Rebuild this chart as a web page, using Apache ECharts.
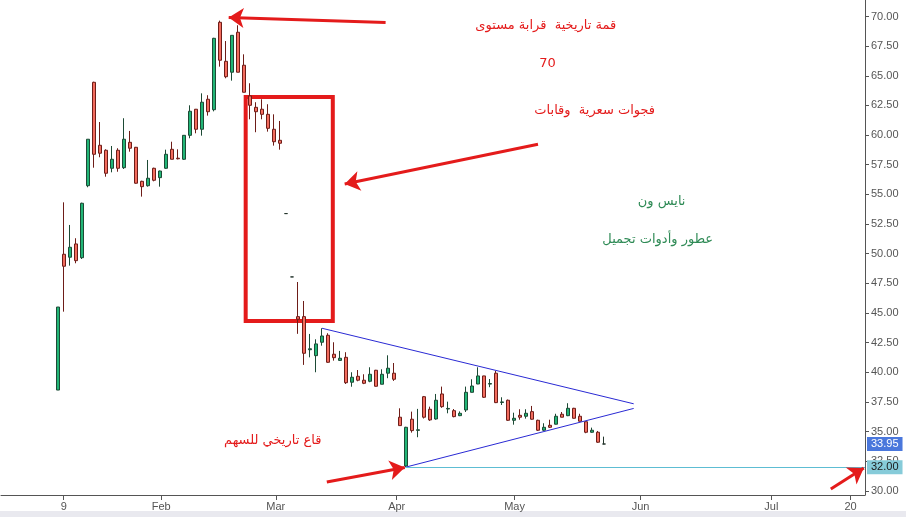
<!DOCTYPE html>
<html><head><meta charset="utf-8">
<script src="https://cdn.jsdelivr.net/npm/echarts@6/dist/echarts.min.js"></script>
<style>html,body{margin:0;padding:0;background:#fff}#c{width:906px;height:517px}</style>
</head><body><div id="c"></div>
<script>
// ---- price data (trading days from 2025-01-08) ----
const opens  = [38.5,49.95,49.7,50.82,49.66,55.73,64.45,59.14,58.72,57.2,58.72,57.25,59.39,58.97,56.1,55.73,57.2,56.41,57.2,58.8,58.05,57.96,59.98,62.18,60.49,63.02,62.14,69.51,66.22,65.3,68.67,65.89,63.3,62.34,62.18,61.75,60.49,59.56,53.38,48.04,44.69,44.69,41.9,41.4,42.53,43.12,41.52,41.0,41.26,39.16,39.66,39.33,39.24,40.17,38.99,39.92,39.92,36.21,32.1,36.04,35.1,37.94,36.88,36.06,38.17,36.9,36.76,36.34,36.82,38.31,39.01,39.69,39.0,39.92,37.45,37.64,35.95,36.37,36.29,36.68,35.95,35.11,35.53,35.62,36.46,36.34,36.96,36.29,35.83,34.94,34.94,33.95];
const highs  = [45.5,54.33,52.42,51.3,54.3,59.65,64.5,61.1,58.8,59.08,58.89,61.42,60.35,59.0,56.15,57.9,57.25,57.0,58.77,59.44,58.8,60.0,62.51,62.2,63.52,63.36,68.2,69.65,67.93,68.41,69.26,66.81,64.37,62.77,63.02,62.6,61.75,61.19,53.38,48.04,47.61,46.01,43.23,42.78,43.71,43.29,42.53,41.8,41.69,40.0,40.19,39.83,40.42,40.2,40.25,41.43,40.78,36.96,35.4,36.68,36.91,38.0,37.1,38.17,38.79,37.52,36.9,36.7,38.79,39.41,40.42,39.7,39.43,40.11,37.89,37.7,36.59,36.88,36.88,37.16,36.0,35.7,36.0,36.5,36.65,37.39,37.0,36.5,35.85,35.33,35.05,34.57];
const lows   = [38.5,45.11,48.99,49.19,49.55,55.6,57.25,58.13,56.49,56.86,56.91,57.14,58.6,55.9,54.81,55.65,56.1,55.65,57.15,57.96,57.95,57.9,59.73,60.15,59.95,61.64,62.0,65.77,64.79,64.59,65.3,63.6,61.33,60.24,61.33,60.29,59.11,58.77,53.38,48.04,43.24,40.62,41.26,40.0,42.24,40.8,40.98,40.95,39.01,38.78,39.24,39.0,39.16,38.8,38.99,39.5,39.27,35.5,32.0,34.91,34.52,36.1,35.9,36.0,37.0,36.54,36.2,36.3,36.65,38.3,39.0,37.83,38.74,37.4,37.24,35.9,35.58,36.0,36.09,36.0,35.05,35.05,35.3,35.6,36.2,36.3,36.1,35.85,34.86,34.9,34.05,33.93];
const closes = [45.5,48.94,50.54,49.41,54.25,59.65,58.38,58.47,56.78,57.96,57.2,59.65,58.89,55.94,55.65,56.36,56.19,56.97,58.38,57.96,58.0,59.98,62.01,60.49,62.77,61.97,68.16,66.31,64.92,68.41,65.3,63.61,62.51,61.97,61.75,60.57,59.44,59.31,53.38,48.04,44.47,41.6,41.98,42.39,43.06,40.84,41.23,41.18,39.12,39.58,39.33,39.07,39.83,38.82,39.83,40.34,39.41,35.5,35.36,35.08,35.15,36.21,35.98,37.64,37.1,36.95,36.26,36.54,38.31,38.84,39.69,37.89,39.05,37.44,37.5,35.95,36.12,36.21,36.54,36.04,35.11,35.36,35.36,36.29,36.21,36.96,36.12,35.87,34.94,35.11,34.1,33.95];

// ---- calendar ----
const firstDay = '2025-01-08';
const marketHolidays = ['2025-03-30','2025-03-31','2025-04-01','2025-04-02'];
const padSlots = 9;      // empty slots before first bar
const barSlots = 135;    // bar slots incl. future area

// ---- axis ticks ----
const timeTickPos = [0.95, 17.2, 36.3, 56.45, 76.1, 97.1, 118.9, 132.1];
const timeTickLabels = ['9','Feb','Mar','Apr','May','Jun','Jul','20'];
const priceTicks = [30,32.5,35,37.5,40,42.5,45,47.5,50,52.5,55,57.5,60,62.5,65,67.5,70];
const priceMin = 29.65, priceMax = 71.39;

// ---- annotations (bar position, price) ----
const lastPrice = 33.95;
const historicLow = 32.00;
const lowLineFrom = 57.95;
const upperTrend = [[44.0, 43.71], [95.95, 37.34]];
const lowerTrend = [[57.95, 32.0], [95.95, 36.95]];
const gapBox = [[31.28, 63.21], [45.8, 44.33]];
const arrowLines = [
  [[54.6, 69.49], [28.45, 69.92]],
  [[80.0, 59.22], [47.78, 55.88]],
  [[44.8, 30.75], [57.8, 31.97]],
  [[128.8, 30.16], [134.3, 31.93]]
];
const redNotes = [
  ['قمة تاريخية  قرابة مستوى', 81.3, 69.22],
  ['70', 81.6, 66.0],
  ['فجوات سعرية  وقابات', 89.45, 62.03],
  ['قاع تاريخي للسهم', 35.78, 34.21]
];
const greenNotes = [
  ['نايس ون', 100.6, 54.4],
  ['عطور وأدوات تجميل', 99.95, 51.16]
];

function buildCategories() {
  const cats = [];
  for (let i = 0; i < padSlots; i++) cats.push('p' + i);
  const d = new Date(firstDay + 'T00:00:00Z');
  let n = 0;
  while (n < barSlots) {
    const s = d.toISOString().slice(0, 10);
    const wd = d.getUTCDay();
    if (wd !== 5 && wd !== 6 && marketHolidays.indexOf(s) < 0) { cats.push(s); n++; }
    d.setUTCDate(d.getUTCDate() + 1);
  }
  return cats;
}
const categories = buildCategories();
const X = p => padSlots + p;

const candleData = opens.map((o, i) => [padSlots + i, o, closes[i], lows[i], highs[i]]);

const RED = '#e41b1b';
const AX = '#555555';
const LOWLINE = '#5dbdd3';
const arabicFont = 'DejaVu Sans';

const chart = echarts.init(document.getElementById('c'), null, {renderer: 'canvas'});
chart.setOption({
  animation: false,
  backgroundColor: '#ffffff',
  grid: {left: 1, right: 41, top: 0, bottom: 22},
  xAxis: [{
    type: 'category', data: categories, boundaryGap: true,
    axisLine: {show: true, onZero: false, lineStyle: {color: AX, width: 1}},
    axisTick: {show: false}, axisLabel: {show: false}, splitLine: {show: false}
  }, {
    type: 'value', position: 'bottom', min: -0.5, max: categories.length - 0.5,
    axisLine: {show: false, onZero: false}, splitLine: {show: false},
    axisTick: {show: true, length: 5, lineStyle: {color: AX}, customValues: timeTickPos.map(X)},
    axisLabel: {show: true, customValues: timeTickPos.map(X), margin: 6, color: '#555', fontSize: 11,
      fontFamily: 'Liberation Sans',
      formatter: v => { let k = 0, best = 1e9; timeTickPos.forEach((p, i) => { const dd = Math.abs(X(p) - v); if (dd < best) { best = dd; k = i; } }); return timeTickLabels[k]; }}
  }],
  yAxis: [{
    type: 'value', position: 'right', min: priceMin, max: priceMax,
    axisLine: {show: true, onZero: false, lineStyle: {color: AX, width: 1}},
    axisTick: {show: true, length: 4, lineStyle: {color: AX}, customValues: priceTicks},
    axisLabel: {show: true, customValues: priceTicks, margin: 6, color: '#555', fontSize: 11,
      fontFamily: 'Liberation Sans', formatter: v => v.toFixed(2)},
    splitLine: {show: false}
  }],
  series: [{
    type: 'candlestick', xAxisIndex: 0, yAxisIndex: 0,
    data: candleData, encode: {x: 0, y: [1, 2, 3, 4]},
    barWidth: 4,
    itemStyle: {color: '#21b576', color0: '#f26c5e', borderColor: '#1d4a35', borderColor0: '#6e1d18', borderColorDoji: '#24352c', borderWidth: 1}
  }, {
    type: 'line', xAxisIndex: 1, yAxisIndex: 0, data: [[X(0), lastPrice]],
    showSymbol: false, symbol: 'none', lineStyle: {opacity: 0}, silent: true,
    markLine: {
      silent: true, symbol: ['none', 'none'],
      data: [
        [{coord: [X(upperTrend[0][0]), upperTrend[0][1]]}, {coord: [X(upperTrend[1][0]), upperTrend[1][1]]}],
        [{coord: [X(lowerTrend[0][0]), lowerTrend[0][1]]}, {coord: [X(lowerTrend[1][0]), lowerTrend[1][1]]}],
        [{coord: [X(lowLineFrom), historicLow], lineStyle: {color: LOWLINE, width: 1, type: 'solid'}},
         {coord: [categories.length - 0.5, historicLow]}]
      ],
      lineStyle: {color: '#2a2ad4', width: 1, type: 'solid'},
      label: {show: false}
    },
    markArea: {
      silent: true,
      itemStyle: {color: 'rgba(0,0,0,0)', borderColor: RED, borderWidth: 4},
      data: [[{coord: [X(gapBox[0][0]), gapBox[0][1]]}, {coord: [X(gapBox[1][0]), gapBox[1][1]]}]]
    }
  }, {
    type: 'line', xAxisIndex: 1, yAxisIndex: 0, data: [[X(0), lastPrice]],
    showSymbol: false, symbol: 'none', lineStyle: {opacity: 0}, silent: true,
    markLine: {
      silent: true, symbol: ['none', 'arrow'], symbolSize: 15,
      lineStyle: {color: RED, width: 3, type: 'solid'},
      itemStyle: {color: RED},
      label: {show: false},
      data: arrowLines.map(a => [{coord: [X(a[0][0]), a[0][1]]}, {coord: [X(a[1][0]), a[1][1]]}])
    }
  }, {
    type: 'line', xAxisIndex: 1, yAxisIndex: 0, data: [[X(0), lastPrice]], z: 5,
    showSymbol: false, symbol: 'none', lineStyle: {opacity: 0}, silent: true,
    markLine: {
      silent: true, symbol: ['none', 'none'],
      lineStyle: {color: 'rgba(0,0,0,0)', width: 1, type: 'solid'},
      data: [
        [{coord: [X(lowLineFrom), historicLow],
          label: {show: true, position: 'end', distance: 2, formatter: historicLow.toFixed(2), color: '#1a1a1a',
            backgroundColor: '#86cbd9', padding: [2, 4, 1, 4], fontSize: 11, fontFamily: 'Liberation Sans'}},
         {coord: [categories.length - 0.5, historicLow]}],
        [{coord: [X(0), lastPrice],
          label: {show: true, position: 'end', distance: 2, formatter: lastPrice.toFixed(2), color: '#ffffff',
            backgroundColor: '#4a77dc', padding: [2, 4, 1, 4], fontSize: 11, fontFamily: 'Liberation Sans'}},
         {coord: [categories.length - 0.5, lastPrice]}]
      ]
    },
    markPoint: {
      silent: true, symbol: 'circle', symbolSize: 0,
      data: redNotes.map(n => ({coord: [X(n[1]), n[2]], label: {show: true, position: 'inside', formatter: n[0],
        color: RED, fontSize: 13, fontFamily: arabicFont}}))
        .concat(greenNotes.map(n => ({coord: [X(n[1]), n[2]], label: {show: true, position: 'inside', formatter: n[0],
        color: '#2e8a55', fontSize: 13, fontFamily: arabicFont}})))
    }
  }],
  graphic: [{type: 'rect', shape: {x: 0, y: 511, width: 906, height: 6}, style: {fill: '#e9e9ef'}, silent: true, z: -1}]
});
</script></body></html>
